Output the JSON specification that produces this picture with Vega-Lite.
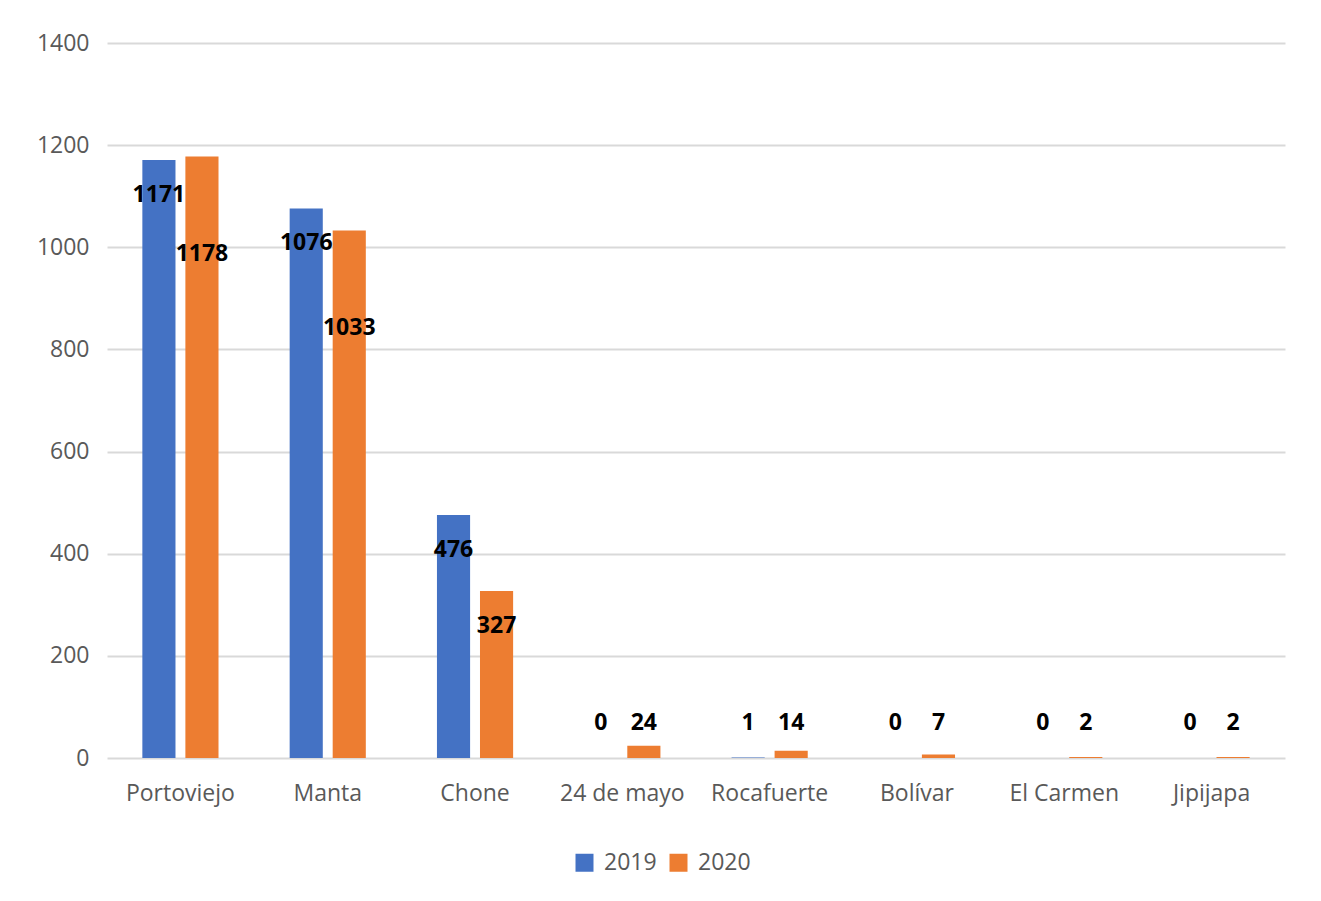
{
  "$schema": "https://vega.github.io/schema/vega-lite/v6.json",
  "width": 1178,
  "height": 715,
  "autosize": {"type": "none"},
  "padding": {"left": 107, "top": 43, "right": 36, "bottom": 143},
  "background": "white",
  "config": {"view": {"stroke": null}, "font": "Open Sans"},
  "data": {
    "values": [
      {"canton": "Portoviejo", "year": "2019", "value": 1171},
      {"canton": "Portoviejo", "year": "2020", "value": 1178},
      {"canton": "Manta", "year": "2019", "value": 1076},
      {"canton": "Manta", "year": "2020", "value": 1033},
      {"canton": "Chone", "year": "2019", "value": 476},
      {"canton": "Chone", "year": "2020", "value": 327},
      {"canton": "24 de mayo", "year": "2019", "value": 0},
      {"canton": "24 de mayo", "year": "2020", "value": 24},
      {"canton": "Rocafuerte", "year": "2019", "value": 1},
      {"canton": "Rocafuerte", "year": "2020", "value": 14},
      {"canton": "Bolívar", "year": "2019", "value": 0},
      {"canton": "Bolívar", "year": "2020", "value": 7},
      {"canton": "El Carmen", "year": "2019", "value": 0},
      {"canton": "El Carmen", "year": "2020", "value": 2},
      {"canton": "Jipijapa", "year": "2019", "value": 0},
      {"canton": "Jipijapa", "year": "2020", "value": 2}
    ]
  },
  "encoding": {
    "x": {
      "field": "canton",
      "type": "nominal",
      "sort": null,
      "title": null,
      "scale": {"paddingInner": 0.483, "paddingOuter": 0.24},
      "axis": {
        "labelAngle": 0,
        "labelFontSize": 23,
        "labelColor": "#595959",
        "labelPadding": 24,
        "ticks": false,
        "domain": false
      }
    },
    "xOffset": {
      "field": "year",
      "type": "nominal",
      "scale": {"paddingInner": 0.23, "paddingOuter": 0}
    }
  },
  "layer": [
    {
      "mark": {"type": "bar"},
      "encoding": {
        "y": {
          "field": "value",
          "type": "quantitative",
          "title": null,
          "scale": {"domain": [0, 1400], "nice": false},
          "axis": {
            "values": [0, 200, 400, 600, 800, 1000, 1200, 1400],
            "format": "d",
            "labelFontSize": 23,
            "labelColor": "#595959",
            "labelPadding": 18,
            "ticks": false,
            "domain": false,
            "gridColor": "#d9d9d9",
            "gridWidth": 2
          }
        },
        "color": {
          "field": "year",
          "type": "nominal",
          "scale": {"domain": ["2019", "2020"], "range": ["#4472C4", "#ED7D31"]},
          "legend": {
            "title": null,
            "orient": "none",
            "legendX": 466,
            "legendY": 808,
            "direction": "horizontal",
            "symbolType": "square",
            "symbolSize": 324,
            "symbolStrokeWidth": 0,
            "labelFontSize": 23,
            "labelColor": "#595959",
            "labelOffset": 8,
            "columnPadding": 10,
            "padding": 0
          }
        }
      }
    },
    {
      "transform": [{"filter": "datum.value > 100 && (datum.year == '2019' || datum.value < 1000)"}],
      "mark": {"type": "text", "baseline": "middle", "dy": 35, "fontWeight": "bold", "fontSize": 23, "color": "black"},
      "encoding": {
        "y": {"field": "value", "type": "quantitative"},
        "text": {"field": "value", "type": "quantitative"}
      }
    },
    {
      "transform": [{"filter": "datum.year == '2020' && datum.value >= 1000"}],
      "mark": {"type": "text", "baseline": "middle", "dy": 98, "fontWeight": "bold", "fontSize": 23, "color": "black"},
      "encoding": {
        "y": {"field": "value", "type": "quantitative"},
        "text": {"field": "value", "type": "quantitative"}
      }
    },
    {
      "transform": [{"filter": "datum.value <= 100"}],
      "mark": {"type": "text", "baseline": "middle", "fontWeight": "bold", "fontSize": 23, "color": "black"},
      "encoding": {
        "y": {"datum": 68, "type": "quantitative"},
        "text": {"field": "value", "type": "quantitative"}
      }
    }
  ]
}
